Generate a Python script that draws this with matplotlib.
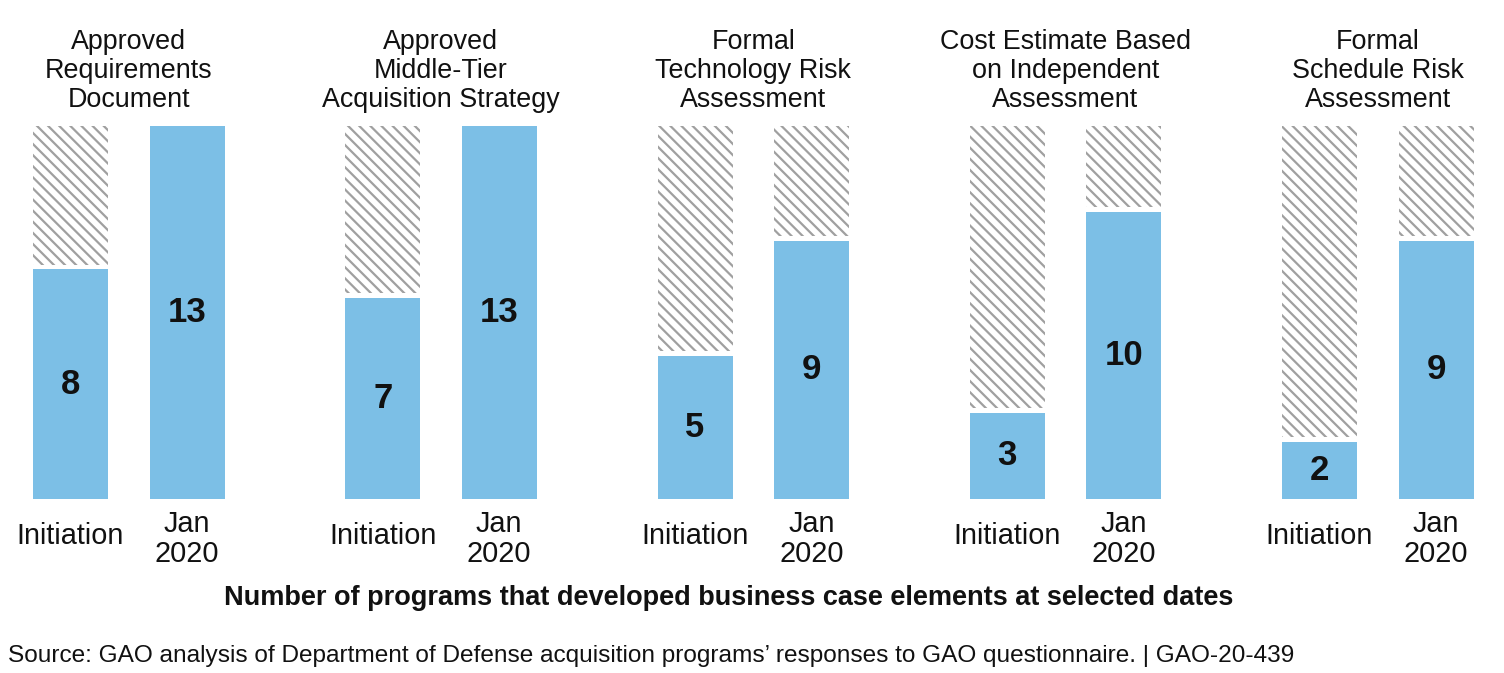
import matplotlib
matplotlib.use("Agg")
import matplotlib.pyplot as plt
import matplotlib.transforms as mtransforms
import numpy as np

plt.rcParams['font.family'] = ['Liberation Sans', 'DejaVu Sans']
plt.rcParams['hatch.linewidth'] = 0.8

categories = ["Approved\nRequirements\nDocument",
              "Approved\nMiddle-Tier\nAcquisition Strategy",
              "Formal\nTechnology Risk\nAssessment",
              "Cost Estimate Based\non Independent\nAssessment",
              "Formal\nSchedule Risk\nAssessment"]
initiation = [8, 7, 5, 3, 2]
jan2020 = [13, 13, 9, 10, 9]
total = 13
period_labels = ["Initiation", "Jan\n2020"]
subtitle = "Number of programs that developed business case elements at selected dates"
source = ("Source: GAO analysis of Department of Defense acquisition programs\u2019 "
          "responses to GAO questionnaire. | GAO-20-439")

W, H = 1504, 673
DPI = 200
fig = plt.figure(figsize=(W / DPI, H / DPI), dpi=DPI)
ax = fig.add_axes([0, 1 - 499 / H, 1, (499 - 126) / H])

unit = 116.5          # px between the two bars of a group
group_step = 312.25 / unit
bar_w = 75 / unit
x0 = 70.5 / unit
ax.set_xlim(-x0, (W - 70.5) / unit)
ax.set_ylim(0, total)
ax.axis('off')

blue = '#7cbfe6'
hatch_col = '#a0a0a0'
gap = 0.17

for i, (a, b) in enumerate(zip(initiation, jan2020)):
    xs = [i * group_step, i * group_step + 1]
    for x, v in zip(xs, [a, b]):
        ax.bar(x, v, width=bar_w, color=blue, linewidth=0)
        if v < total:
            ax.bar(x, total - v - gap, bottom=v + gap, width=bar_w,
                   facecolor='white', edgecolor=hatch_col, hatch='\\' * 6,
                   linewidth=0)
        ax.text(x, v / 2, str(v), ha='center', va='center',
                fontsize=12.5, fontweight='bold', color='#111111')

trans = mtransforms.blended_transform_factory(ax.transData, fig.transFigure)
for i, cat in enumerate(categories):
    cx = i * group_step + 0.5
    ax.text(cx, 1 - 71 / H, cat, transform=trans, ha='center', va='center',
            fontsize=9.7, linespacing=1.13, color='#111111')
    ax.text(i * group_step, 1 - 536 / H, period_labels[0], transform=trans,
            ha='center', va='center', fontsize=10.4, color='#111111')
    ax.text(i * group_step + 1, 1 - 539 / H, period_labels[1], transform=trans,
            ha='center', va='center', fontsize=10.4, linespacing=1.05,
            color='#111111')

fig.text(0.5 * (224 + 1233) / W, 1 - 598 / H, subtitle, ha='center', va='center',
         fontsize=9.77, fontweight='bold', color='#111111')
fig.text(8 / W, 1 - 656 / H, source, ha='left', va='center',
         fontsize=8.77, color='#111111')

fig.savefig('out.png', dpi=DPI, facecolor='white')
